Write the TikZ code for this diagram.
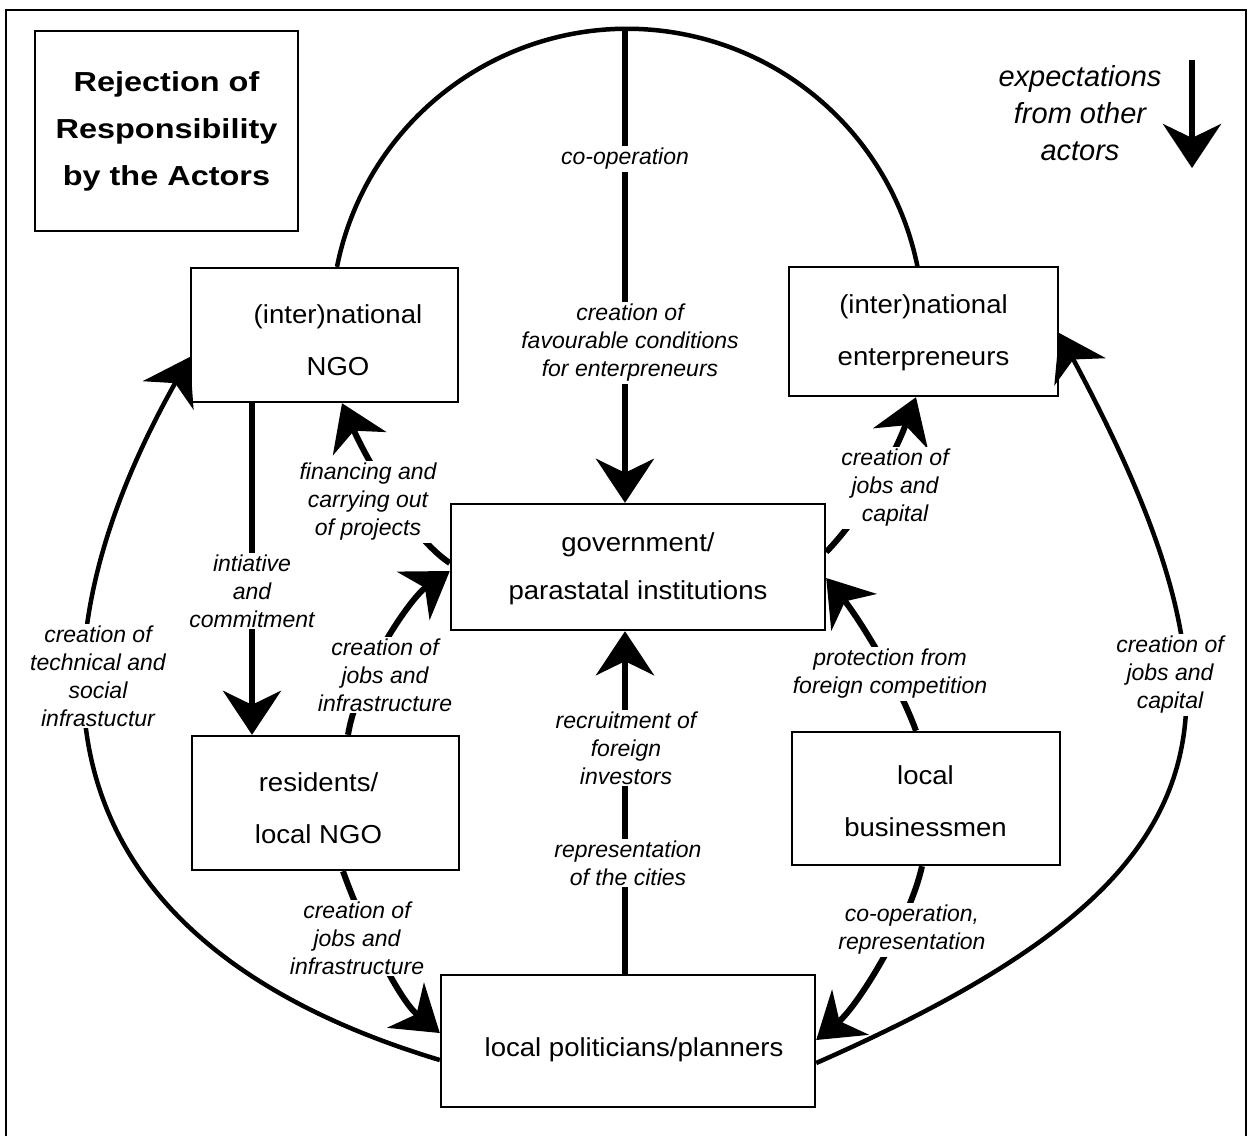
\documentclass[tikz,border=0pt]{standalone}
\usepackage{fontspec}
\setmainfont{Liberation Sans}
\newfontfamily\boxfam[FakeStretch=1.06]{Liberation Sans}
\newfontfamily\titlefam[FakeStretch=1.18]{Liberation Sans}
\usetikzlibrary{arrows.meta,calc}
\newcommand\boxfont{\boxfam\fontsize{26}{52}\selectfont}
\newcommand\labfont{\itshape\fontsize{23}{28}\selectfont}
\newcommand\titfont{\titlefam\bfseries\fontsize{27.5}{47}\selectfont}
\newcommand\expfont{\itshape\fontsize{29}{37}\selectfont}
\begin{document}
\begin{tikzpicture}[x=1pt,y=-1pt,
  box/.style={draw, line width=2.4pt, inner sep=0pt},
  btxt/.style={font=\boxfont, align=center, inner sep=0pt},
  lab/.style={font=\labfont, align=center, fill=white, inner sep=2pt},
  shaft/.style={line width=6pt},
  arcline/.style={line width=4.5pt},
  bigarrow/.style={-{Stealth[length=44pt, width=58pt, inset=14pt]}}]
\useasboundingbox (0,0) rectangle (1257,1136);
\draw[line width=2pt] (6,1136) -- (6,10) -- (1246,10) -- (1246,1136);

% boxes
\node[box, minimum width=263pt, minimum height=200pt, font=\titfont, align=center] (title) at (166.5,131) {Rejection of\\Responsibility\\by the Actors};
\node[box, minimum width=267pt, minimum height=134pt] (ngo) at (324.5,335) {};
\node[btxt] (ngot) at (338,340) {(inter)national\\NGO};
\node[box, minimum width=269pt, minimum height=129pt] (ent) at (923.5,331.5) {};
\node[btxt] (entt) at (923.5,333) {(inter)national\\enterpreneurs};
\node[box, minimum width=374pt, minimum height=126pt] (gov) at (638,567) {};
\node[btxt] (govt) at (638,569) {government/\\[-4pt]parastatal institutions};
\node[box, minimum width=267pt, minimum height=134pt] (res) at (325.5,803) {};
\node[btxt] (rest) at (318.5,808) {residents/\\local NGO};
\node[box, minimum width=268pt, minimum height=133pt] (bus) at (926,798.5) {};
\node[btxt] (bust) at (925.5,801) {local\\businessmen};
\node[box, minimum width=374pt, minimum height=132pt] (pol) at (628,1041) {};
\node[btxt] (polt) at (634,1050) {local politicians/planners};

% legend
\node[font=\expfont, align=center] (exp) at (1080,113) {expectations\\from other\\actors};
\coordinate (e1) at (1192,60);
\coordinate (e2) at (1192,168);
\draw[shaft, bigarrow] (e1) -- (e2);

% connectors
\coordinate (arctop) at (625,30);
\draw[arcline] (337,0 |- ngo.north) arc[start angle=191.3, end angle=348.7, radius=296];
\draw[shaft, bigarrow] (arctop) -- (arctop |- gov.north);
\draw[shaft, bigarrow] (625,0 |- pol.north) -- (625,0 |- gov.south);
\draw[shaft, bigarrow] (252,0 |- ngo.south) -- (252,0 |- res.north);
\draw[shaft, bigarrow] (348,0 |- res.north) .. controls (358,675) and (410,598) .. (gov.west |- 0,571);
\draw[shaft, bigarrow] (gov.west |- 0,563) .. controls (410,537) and (365,456) .. (342,0 |- ngo.south);
\draw[shaft, bigarrow] (gov.east |- 0,552) .. controls (865,512) and (895,453) .. (916,0 |- ent.south);
\draw[shaft, bigarrow] (916,0 |- bus.north) .. controls (896,677) and (857,616) .. (gov.east |- 0,578);
\draw[shaft, bigarrow] (922,0 |- bus.south) .. controls (910,921) and (858,1006) .. (pol.east |- 0,1040);
\draw[shaft, bigarrow] (343,0 |- res.south) .. controls (361,922) and (398,999) .. (pol.west |- 0,1033);
\draw[arcline, bigarrow] (pol.west |- 0,1060) .. controls (61,946) and (3,689) .. (ngo.west |- 0,357);
\draw[arcline, bigarrow] (pol.east |- 0,1063) .. controls (1225,883) and (1271,729) .. (ent.east |- 0,333);

% labels
\node[lab] (l1) at (625,159) {co-operation};
\node[lab] (l2) at (630,343) {creation of\\favourable conditions\\for enterpreneurs};
\node[lab] (l3) at (626,748) {recruitment of\\foreign\\investors};
\node[lab] (l4) at (628,863) {representation\\of the cities};
\node[lab] (l5) at (252,591) {intiative\\and\\commitment};
\node[lab] (l6) at (385,675) {creation of\\jobs and\\infrastructure};
\node[lab] (l7) at (368,502) {financing and\\carrying out\\of projects};
\node[lab] (l8) at (895,488) {creation of\\jobs and\\capital};
\node[lab] (l9) at (890,674) {protection from\\foreign competition};
\node[lab] (l10) at (912,930) {co-operation,\\representation};
\node[lab] (l11) at (357,938) {creation of\\jobs and\\infrastructure};
\node[lab] (l12) at (98,676) {creation of\\technical and\\social\\infrastuctur};
\node[lab] (l13) at (1170,675) {creation of\\jobs and\\capital};
\end{tikzpicture}
\end{document}
